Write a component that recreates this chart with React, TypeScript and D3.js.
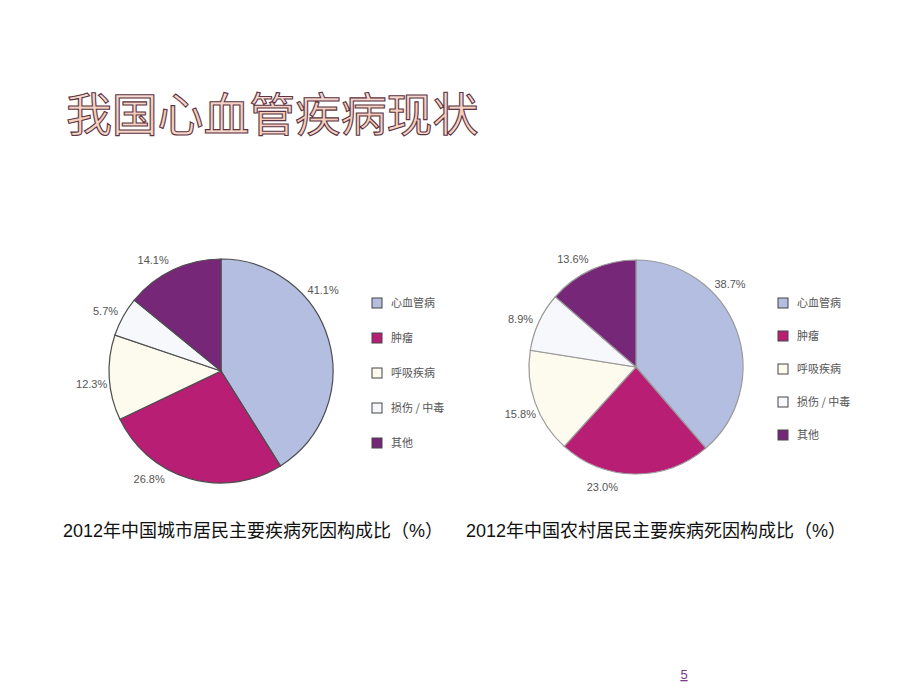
import React from "react";
import * as d3 from "d3";

const categories = ["心血管病", "肿瘤", "呼吸疾病", "损伤 / 中毒", "其他"];
const urbanValues = [41.1, 26.8, 12.3, 5.7, 14.1];
const ruralValues = [38.7, 23.0, 15.8, 8.9, 13.6];
const colors = ["#b3bee0", "#b81f74", "#fdfbee", "#f6f8fc", "#772777"];
const titleText = "我国心血管疾病现状";
const urbanCaption = "2012年中国城市居民主要疾病死因构成比（%）";
const ruralCaption = "2012年中国农村居民主要疾病死因构成比（%）";
// fraction along each slice's arc where its % label sits (style parameter)
const labelFrac = [0.35, 0.68, 0.45, 0.42, 0.38];

type PieProps = {
  values: number[];
  cx: number;
  cy: number;
  r: number;
  stroke: string;
  legendX: number;
  legendY: number;
  legendStep: number;
};

function Pie({ values, cx, cy, r, stroke, legendX, legendY, legendStep }: PieProps) {
  const pie = d3.pie<number>().sort(null).value((d) => d);
  const arcs = pie(values);
  const arc = d3.arc<d3.PieArcDatum<number>>().innerRadius(0).outerRadius(r);
  const labelR = r + 18;
  return (
    <g>
      <g transform={`translate(${cx},${cy})`}>
        {arcs.map((a, i) => (
          <path key={i} d={arc(a) || ""} fill={colors[i]} stroke={stroke} strokeWidth={1.2} />
        ))}
        {arcs.map((a, i) => {
          const ang = a.startAngle + (a.endAngle - a.startAngle) * labelFrac[i];
          const x = Math.sin(ang) * labelR;
          const y = -Math.cos(ang) * labelR;
          return (
            <text
              key={i}
              x={x}
              y={y}
              dy="0.35em"
              textAnchor="middle"
              fontSize={11}
              fill="#555"
              fontFamily="'Liberation Sans', Arial, sans-serif"
            >
              {values[i].toFixed(1)}%
            </text>
          );
        })}
      </g>
      {categories.map((c, i) => (
        <g key={c} transform={`translate(${legendX},${legendY + i * legendStep})`}>
          <rect x={0} y={-5} width={10} height={10} fill={colors[i]} stroke="#444" strokeWidth={1} />
          <text x={19} y={0} dy="0.35em" fontSize={11} fill="#555" fontFamily="'Noto Sans CJK SC', sans-serif">
            {c}
          </text>
        </g>
      ))}
    </g>
  );
}

export default function App() {
  return (
    <svg
      width={920}
      height={690}
      style={{ position: "absolute", left: 0, top: 0, background: "#fff" }}
    >
      <defs>
        <linearGradient id="tg" x1="0" y1="0" x2="0" y2="1">
          <stop offset="0%" stopColor="#f6e6e8" />
          <stop offset="55%" stopColor="#f3cdb6" />
          <stop offset="100%" stopColor="#f7dcd0" />
        </linearGradient>
      </defs>
      <rect width={920} height={690} fill="#fff" />
      <text
        x={66}
        y={131}
        fontSize={46}
        fill="url(#tg)"
        stroke="#5e3344"
        strokeWidth={1.1}
        fontFamily="'Noto Sans CJK SC', sans-serif"
        letterSpacing={-0.2}
      >
        {titleText}
      </text>
      <Pie values={urbanValues} cx={221} cy={371} r={112} stroke="#4d4d4d" legendX={372} legendY={303} legendStep={35} />
      <Pie values={ruralValues} cx={636} cy={367} r={107} stroke="#9a9a9a" legendX={778} legendY={303} legendStep={33} />
      <text x={63} y={537} fontSize={18} fill="#111" fontFamily="'Liberation Sans', 'Noto Sans CJK SC', sans-serif">
        {urbanCaption}
      </text>
      <text x={466} y={537} fontSize={18} fill="#111" fontFamily="'Liberation Sans', 'Noto Sans CJK SC', sans-serif">
        {ruralCaption}
      </text>
      <text
        x={684}
        y={679}
        fontSize={13}
        textAnchor="middle"
        fill="#7b3a8c"
        textDecoration="underline"
        fontFamily="'Liberation Sans', sans-serif"
      >
        5
      </text>
    </svg>
  );
}
